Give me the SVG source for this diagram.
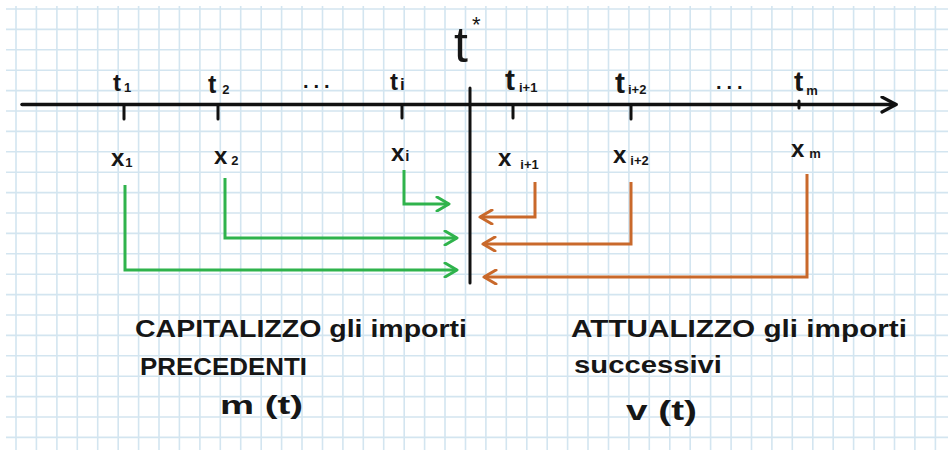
<svg xmlns="http://www.w3.org/2000/svg" width="948" height="450" viewBox="0 0 948 450">
<style>
.grid{fill:none;stroke:#d3e5f0;stroke-width:1.6}
.hw{font-family:"Liberation Sans",Arial,sans-serif;font-weight:bold;fill:#161616}
.sub{font-size:13px}
.axis{fill:none;stroke:#111;stroke-width:3.5;stroke-linecap:round}
.tick{fill:none;stroke:#111;stroke-width:3;stroke-linecap:round}
.g{fill:none;stroke:#2fb34c;stroke-width:3;stroke-linejoin:miter}
.o{fill:none;stroke:#c9692b;stroke-width:3;stroke-linejoin:miter}
</style>
<defs>
<marker id="ak" viewBox="0 0 18 18" refX="16" refY="9" markerWidth="18" markerHeight="18" markerUnits="userSpaceOnUse" orient="auto"><path d="M2,1.5 L16,9 L2,16.5" fill="none" stroke="#111" stroke-width="3.2" stroke-linecap="round" stroke-linejoin="round"/></marker>
<marker id="ag" viewBox="0 0 16 16" refX="14" refY="8" markerWidth="16" markerHeight="16" markerUnits="userSpaceOnUse" orient="auto"><path d="M2,1 L14,8 L2,15" fill="none" stroke="#2fb34c" stroke-width="3" stroke-linecap="round" stroke-linejoin="round"/></marker>
<marker id="ao" viewBox="0 0 16 16" refX="14" refY="8" markerWidth="16" markerHeight="16" markerUnits="userSpaceOnUse" orient="auto"><path d="M2,1 L14,8 L2,15" fill="none" stroke="#c9692b" stroke-width="3" stroke-linecap="round" stroke-linejoin="round"/></marker>
</defs>
<rect width="948" height="450" fill="#ffffff"/>
<path class="grid" d="M16 6V450M36.4 6V450M56.9 6V450M77.3 6V450M97.7 6V450M118.2 6V450M138.6 6V450M159 6V450M179.4 6V450M199.9 6V450M220.3 6V450M240.7 6V450M261.2 6V450M281.6 6V450M302 6V450M322.5 6V450M342.9 6V450M363.3 6V450M383.7 6V450M404.2 6V450M424.6 6V450M445 6V450M465.5 6V450M485.9 6V450M506.3 6V450M526.8 6V450M547.2 6V450M567.6 6V450M588 6V450M608.5 6V450M628.9 6V450M649.3 6V450M669.8 6V450M690.2 6V450M710.6 6V450M731.1 6V450M751.5 6V450M771.9 6V450M792.3 6V450M812.8 6V450M833.2 6V450M853.6 6V450M874.1 6V450M894.5 6V450M914.9 6V450M935.4 6V450
M6 9H948M6 29.4H948M6 49.8H948M6 70.2H948M6 90.6H948M6 111H948M6 131.4H948M6 151.8H948M6 172.2H948M6 192.6H948M6 213H948M6 233.4H948M6 253.8H948M6 274.2H948M6 294.6H948M6 315H948M6 335.4H948M6 355.8H948M6 376.2H948M6 396.6H948M6 417H948M6 437.4H948"/>

<g id="timeline">
<path class="axis" d="M22 104.5H896" marker-end="url(#ak)"/>
<path class="tick" d="M124 106V119M218 106V119M402 106V118M513 106V118M631 106V119M799 101V108"/>
<path class="axis" d="M470 88V283" style="stroke-width:3"/>
</g>

<g id="connectors">
<path class="g" d="M404 170V204H449" marker-end="url(#ag)"/>
<path class="g" d="M225 178V238H457" marker-end="url(#ag)"/>
<path class="g" d="M125 185V270H457" marker-end="url(#ag)"/>
<path class="o" d="M535 182V217H480" marker-end="url(#ao)"/>
<path class="o" d="M631 182V244H483" marker-end="url(#ao)"/>
<path class="o" d="M807 174V277H484" marker-end="url(#ao)"/>
</g>

<g id="label-tstar"><text class="hw" x="454" y="62" font-size="50" font-weight="normal" style="font-weight:normal">t<tspan font-size="22" dy="-30" dx="4">*</tspan></text></g>
<g id="label-t1"><text class="hw" x="113" y="91" font-size="24">t<tspan class="sub" dx="3" dy="1">1</tspan></text></g>
<g id="label-t2"><text class="hw" x="208" y="93" font-size="25">t<tspan class="sub" dx="6" dy="1">2</tspan></text></g>
<g id="label-dots1"><text class="hw" x="303" y="88" font-size="20" letter-spacing="5">...</text></g>
<g id="label-ti"><text class="hw" x="390" y="90" font-size="24">t<tspan font-size="17" dx="2">i</tspan></text></g>
<g id="label-ti1"><text class="hw" x="505" y="90" font-size="30">t<tspan class="sub" dx="4" dy="2">i+1</tspan></text></g>
<g id="label-ti2"><text class="hw" x="615" y="93" font-size="30">t<tspan class="sub" dx="3" dy="1">i+2</tspan></text></g>
<g id="label-dots2"><text class="hw" x="716" y="89" font-size="20" letter-spacing="5">...</text></g>
<g id="label-tm"><text class="hw" x="794" y="91" font-size="28">t<tspan class="sub" dx="3" dy="4">m</tspan></text></g>

<g id="label-x1"><text class="hw" x="111" y="166" font-size="24">x<tspan class="sub" dx="1" dy="1">1</tspan></text></g>
<g id="label-x2"><text class="hw" x="214" y="164" font-size="24">x<tspan class="sub" dx="4" dy="1">2</tspan></text></g>
<g id="label-xi"><text class="hw" x="391" y="161" font-size="24">x<tspan font-size="15" dx="1">i</tspan></text></g>
<g id="label-xi1"><text class="hw" x="498" y="166" font-size="24">x<tspan class="sub" dx="9" dy="3">i+1</tspan></text></g>
<g id="label-xi2"><text class="hw" x="613" y="163" font-size="24">x<tspan class="sub" dx="4" dy="2">i+2</tspan></text></g>
<g id="label-xm"><text class="hw" x="791" y="157" font-size="24">x<tspan class="sub" dx="5" dy="1">m</tspan></text></g>

<g id="note-left">
<text class="hw" x="135" y="337" font-size="24" textLength="332" lengthAdjust="spacingAndGlyphs">CAPITALIZZO gli importi</text>
<text class="hw" x="140" y="375" font-size="24" textLength="167" lengthAdjust="spacingAndGlyphs">PRECEDENTI</text>
<text class="hw" x="220" y="414" font-size="26" textLength="83" lengthAdjust="spacingAndGlyphs">m (t)</text>
</g>
<g id="note-right">
<text class="hw" x="571" y="337" font-size="24" textLength="336" lengthAdjust="spacingAndGlyphs">ATTUALIZZO gli importi</text>
<text class="hw" x="574" y="373" font-size="24" textLength="148" lengthAdjust="spacingAndGlyphs">successivi</text>
<text class="hw" x="626" y="420" font-size="28" textLength="71" lengthAdjust="spacingAndGlyphs">v (t)</text>
</g>
</svg>
